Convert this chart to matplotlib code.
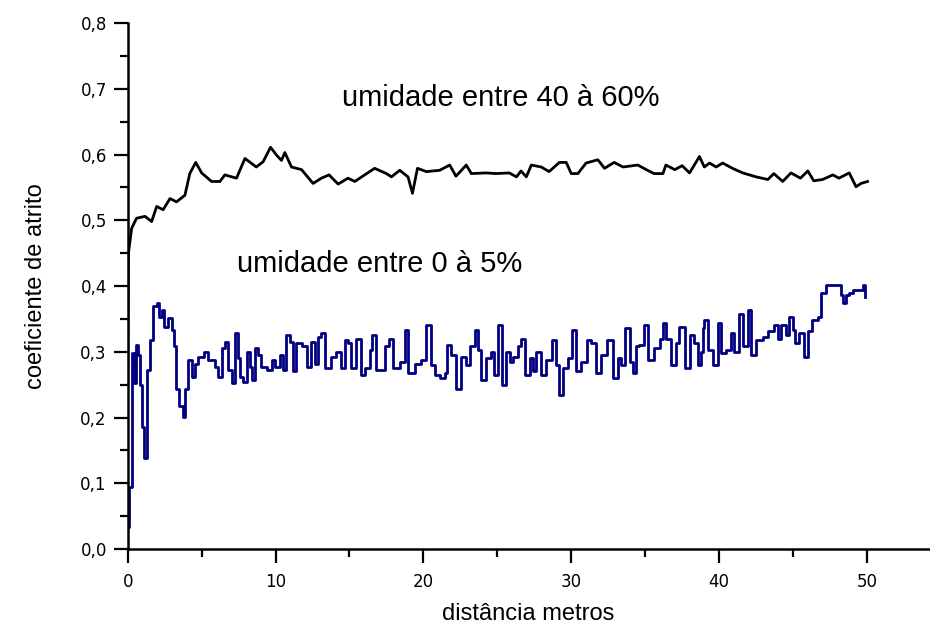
import numpy as np
import matplotlib
matplotlib.use("Agg")
import matplotlib.pyplot as plt
from matplotlib.ticker import MultipleLocator

# === Data ===
# umidade entre 40 à 60% (black)
black_x = [0.0, 0.05, 0.27, 0.6, 1.17, 1.62, 1.96, 2.4, 2.86, 3.3, 3.87, 4.2, 4.6, 5.0,
           5.67, 6.24, 6.57, 7.36, 7.93, 8.7, 9.16, 9.66, 10.07, 10.4, 10.63, 11.08,
           11.76, 12.54, 13.1, 13.62, 14.23, 14.9, 15.36, 16.03, 16.7, 17.5, 17.84,
           18.4, 18.96, 19.26, 19.6, 20.2, 21.1, 21.78, 22.2, 22.9, 23.24, 24.26,
           24.9, 25.8, 26.3, 26.6, 26.96, 27.3, 27.97, 28.5, 29.2, 29.66, 30.0,
           30.45, 31.0, 31.8, 32.25, 32.9, 33.5, 34.5, 35.07, 35.6, 36.2, 36.4,
           37.0, 37.5, 38.0, 38.67, 39.0, 39.35, 39.8, 40.24, 40.9, 41.6, 42.5,
           43.3, 43.7, 44.3, 44.86, 45.5, 46.0, 46.4, 47.0, 47.7, 48.1, 48.8,
           49.26, 49.6, 50.04]
black_y = [0.25, 0.45, 0.488, 0.503, 0.506, 0.498, 0.521, 0.516, 0.533, 0.528, 0.538,
           0.571, 0.588, 0.572, 0.559, 0.559, 0.569, 0.564, 0.594, 0.581, 0.589,
           0.611, 0.599, 0.591, 0.603, 0.581, 0.577, 0.556, 0.564, 0.569, 0.555,
           0.564, 0.559, 0.569, 0.579, 0.571, 0.566, 0.576, 0.566, 0.541, 0.579,
           0.574, 0.576, 0.584, 0.567, 0.584, 0.571, 0.572, 0.571, 0.572, 0.566,
           0.575, 0.566, 0.584, 0.581, 0.574, 0.588, 0.588, 0.571, 0.571, 0.587,
           0.592, 0.579, 0.588, 0.581, 0.584, 0.577, 0.571, 0.571, 0.584, 0.577,
           0.583, 0.572, 0.597, 0.581, 0.587, 0.581, 0.587, 0.579, 0.572, 0.566,
           0.562, 0.571, 0.559, 0.572, 0.564, 0.575, 0.560, 0.562, 0.569, 0.564,
           0.572, 0.551, 0.556, 0.559]

# umidade entre 0 à 5% (blue)
blue_x = [0.0, 0.1, 0.27, 0.4, 0.56, 0.72, 0.83, 1.0, 1.1, 1.28, 1.33, 1.5, 1.73, 1.96,
          2.14, 2.3, 2.47, 2.75, 2.97, 3.13, 3.26, 3.49, 3.71, 3.87, 4.1, 4.32, 4.55,
          4.77, 5.15, 5.45, 5.9, 6.12, 6.35, 6.57, 6.8, 7.03, 7.25, 7.47, 7.6, 7.8,
          8.04, 8.26, 8.44, 8.6, 8.83, 9.05, 9.39, 9.73, 9.95, 10.3, 10.5, 10.74,
          10.97, 11.2, 11.4, 11.76, 12.1, 12.43, 12.65, 12.88, 13.1, 13.33, 13.78,
          14.1, 14.46, 14.7, 14.9, 15.13, 15.47, 15.8, 16.03, 16.37, 16.55, 16.8,
          17.16, 17.38, 17.68, 17.95, 18.4, 18.74, 18.96, 19.4, 19.87, 20.2, 20.54,
          20.76, 21.1, 21.44, 21.6, 21.9, 22.23, 22.57, 22.9, 23.13, 23.47, 23.7,
          23.9, 24.26, 24.6, 24.8, 25.04, 25.3, 25.6, 25.83, 26.05, 26.4, 26.6,
          26.85, 27.2, 27.4, 27.63, 27.97, 28.3, 28.7, 28.94, 29.16, 29.43, 29.77,
          30.07, 30.34, 30.68, 31.05, 31.35, 31.7, 32.03, 32.4, 32.8, 33.15, 33.38,
          33.65, 33.94, 34.16, 34.4, 34.6, 34.9, 35.2, 35.6, 35.97, 36.2, 36.4,
          36.76, 37.1, 37.3, 37.66, 38.04, 38.33, 38.55, 38.75, 38.9, 39.0, 39.23,
          39.57, 39.9, 40.14, 40.47, 40.8, 41.03, 41.37, 41.6, 41.93, 42.16, 42.5,
          42.95, 43.3, 43.7, 43.96, 44.2, 44.5, 44.75, 44.97, 45.1, 45.4, 45.76,
          46.0, 46.3, 46.66, 46.9, 47.23, 47.9, 48.24, 48.4, 48.58, 48.8, 49.03,
          49.5, 49.7, 49.9]
blue_y = [0.034, 0.095, 0.298, 0.252, 0.310, 0.295, 0.250, 0.186, 0.138, 0.148, 0.272,
          0.318, 0.369, 0.374, 0.353, 0.364, 0.338, 0.351, 0.333, 0.308, 0.244, 0.217,
          0.201, 0.244, 0.287, 0.262, 0.282, 0.292, 0.300, 0.287, 0.277, 0.262, 0.305,
          0.315, 0.272, 0.252, 0.328, 0.290, 0.262, 0.254, 0.300, 0.277, 0.257, 0.305,
          0.295, 0.277, 0.272, 0.287, 0.277, 0.295, 0.272, 0.325, 0.315, 0.270, 0.313,
          0.308, 0.277, 0.315, 0.282, 0.323, 0.328, 0.275, 0.292, 0.300, 0.275, 0.318,
          0.313, 0.275, 0.320, 0.265, 0.275, 0.303, 0.325, 0.272, 0.272, 0.308, 0.320,
          0.275, 0.285, 0.333, 0.267, 0.282, 0.287, 0.341, 0.280, 0.265, 0.260, 0.267,
          0.310, 0.295, 0.244, 0.292, 0.280, 0.308, 0.333, 0.303, 0.257, 0.290, 0.300,
          0.265, 0.341, 0.249, 0.300, 0.285, 0.292, 0.308, 0.320, 0.265, 0.290, 0.270,
          0.300, 0.265, 0.287, 0.318, 0.280, 0.234, 0.275, 0.290, 0.333, 0.270, 0.285,
          0.318, 0.313, 0.267, 0.295, 0.318, 0.260, 0.290, 0.280, 0.336, 0.285, 0.267,
          0.308, 0.310, 0.341, 0.287, 0.305, 0.320, 0.343, 0.320, 0.280, 0.313, 0.338,
          0.275, 0.325, 0.313, 0.280, 0.300, 0.336, 0.348, 0.303, 0.280, 0.343, 0.298,
          0.303, 0.328, 0.300, 0.358, 0.308, 0.364, 0.295, 0.318, 0.323, 0.331, 0.341,
          0.320, 0.341, 0.325, 0.353, 0.333, 0.313, 0.328, 0.292, 0.331, 0.348, 0.353,
          0.389, 0.402, 0.402, 0.386, 0.374, 0.386, 0.389, 0.394, 0.394, 0.402, 0.384]

x_ticks = [0, 10, 20, 30, 40, 50]
x_ticklabels = ['0', '10', '20', '30', '40', '50']
y_ticks = [0.0, 0.1, 0.2, 0.3, 0.4, 0.5, 0.6, 0.7, 0.8]
y_ticklabels = ['0,0', '0,1', '0,2', '0,3', '0,4', '0,5', '0,6', '0,7', '0,8']

# === Plot ===
fig = plt.figure(figsize=(9.3, 6.27), dpi=100)
ax = fig.add_axes([0.1373, 0.1244, 0.8617, 0.8389])

ax.plot(black_x, black_y, color='black', lw=2.0)
ax.plot(blue_x, blue_y, color='#000080', lw=2.0, drawstyle='steps-post')

ax.set_xlim(0, 54.2)
ax.set_ylim(0, 0.8)

ax.spines['top'].set_visible(False)
ax.spines['right'].set_visible(False)
ax.spines['left'].set_linewidth(1.8)
ax.spines['bottom'].set_linewidth(1.8)

ax.set_xticks(x_ticks)
ax.set_xticklabels(x_ticklabels)
ax.set_yticks(y_ticks)
ax.set_yticklabels(y_ticklabels)
ax.xaxis.set_minor_locator(MultipleLocator(5))
ax.yaxis.set_minor_locator(MultipleLocator(0.05))
ax.tick_params(which='major', length=10, width=1.6, direction='out',
               labelsize=12, pad=5)
ax.tick_params(which='minor', length=5.5, width=1.6, direction='out')
ax.tick_params(axis='x', pad=7)

ax.set_xlabel('distância metros', fontsize=17, family='Liberation Sans', labelpad=9)
ax.set_ylabel('coeficiente de atrito', fontsize=17, family='Liberation Sans', labelpad=24)

ax.text(14.5, 0.674, 'umidade entre 40 à 60%', fontsize=21,
        family='Liberation Sans', va='baseline')
ax.text(7.4, 0.422, 'umidade entre 0 à 5%', fontsize=21,
        family='Liberation Sans', va='baseline')

fig.savefig('out.png', dpi=100)
